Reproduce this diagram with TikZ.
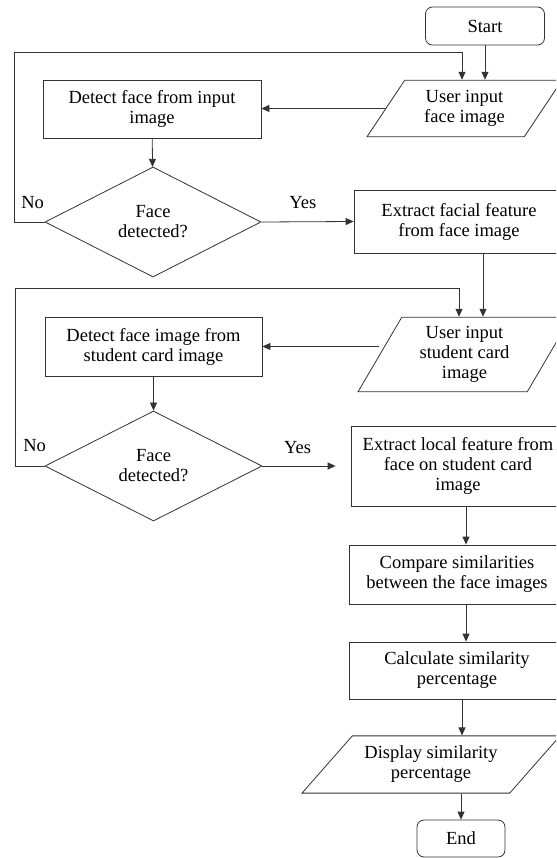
\documentclass[tikz,border=0pt]{standalone}
\usepackage{fontspec}
\setmainfont{Liberation Serif}
\usetikzlibrary{shapes.geometric, arrows.meta}
\tikzstyle{arrow} = [draw=black!80, line width=0.8pt, -{Triangle[length=8pt,width=7pt]}]
\tikzstyle{line} = [draw=black!80, line width=0.8pt]
\tikzstyle{startstop} = [rectangle, rounded corners=7pt, draw=black!80, line width=0.8pt, align=center, inner sep=0pt]
\tikzstyle{process} = [rectangle, draw=black!80, line width=0.8pt, align=center, inner sep=0pt]
\tikzstyle{io} = [trapezium, trapezium stretches body=true, draw=black!80, line width=0.8pt, align=center, inner xsep=0pt, inner ysep=10.2pt]
\tikzstyle{decision} = [diamond, draw=black!80, line width=0.8pt, align=center, inner sep=0pt, aspect=2]

\begin{document}
\begin{tikzpicture}[x=1pt, y=-1pt, font=\fontsize{18.5}{20}\selectfont]
\useasboundingbox (0,0) rectangle (556,858);
\clip (0,0) rectangle (556,858);
\node (start) [startstop, minimum width=119pt, minimum height=38pt] at (485,26) {Start};
\node (in1) [io, trapezium left angle=56.3, trapezium right angle=123.7, minimum width=195pt] at (464.5,108.5) {User input\\face image};
\node (det1) [process, minimum width=218pt, minimum height=58pt] at (152,109) {Detect face from input\\image};
\node (dec1) [decision, minimum width=216pt, minimum height=110pt] at (153,222) {Face\\detected?};
\node (ext1) [process, minimum width=210pt, minimum height=63pt] at (459,221.5) {Extract facial feature\\from face image};
\node (in2) [io, inner ysep=9.2pt, trapezium left angle=59.6, trapezium right angle=120.4, minimum width=213pt] at (464.5,354.5) {User input\\student card\\image};
\node (det2) [process, minimum width=217pt, minimum height=59pt] at (153.5,346.5) {Detect face image from\\student card image};
\node (dec2) [decision, minimum width=217pt, minimum height=110pt] at (153.5,466) {Face\\detected?};
\node (ext2) [process, minimum width=214pt, minimum height=80pt] at (458,466) {Extract local feature from\\face on student card\\image};
\node (cmp) [process, minimum width=216pt, minimum height=59pt] at (457,574.5) {Compare similarities\\between the face images};
\node (calc) [process, minimum width=216pt, minimum height=57pt] at (457,670.5) {Calculate similarity\\percentage};
\node (disp) [io, trapezium left angle=48.7, trapezium right angle=131.3, minimum width=258pt] at (431,764.5) {Display similarity\\percentage};
\node (stop) [startstop, minimum width=88pt, minimum height=37pt] at (461,838.5) {End};
\coordinate (loopa) at (14,52);
\coordinate (loopb) at (15,288);
\node (no1) at ([xshift=-12pt, yshift=19pt]dec1.west) {No};
\node (no2) at ([xshift=-10pt, yshift=20pt]dec2.west) {No};
\draw [arrow] (start) -- (start |- in1.north);
\draw [arrow] (dec1.west) -| (loopa) -| ([xshift=-2.5pt]in1.north);
\draw [arrow] (in1.west) -- (in1.west -| det1.east);
\draw [arrow] (det1) -- (dec1);
\draw [arrow] (dec1.east) -- node[above=9pt, pos=0.45] (yes1) {Yes} (ext1.west);
\draw [arrow] ([xshift=24pt]ext1.south) -- ([xshift=24pt]ext1.south |- in2.north);
\draw [arrow] (dec2.west) -| (loopb) -| ([xshift=-5.5pt]in2.north);
\draw [arrow] (det2.east -| in2.west) -- (det2.east);
\draw [arrow] (det2) -- (dec2);
\draw [arrow, shorten >=15pt] (dec2.east) -- node[above=9pt, pos=0.4] (yes2) {Yes} (ext2.west);
\draw [arrow] ([xshift=8pt]ext2.south) -- ([xshift=8pt]ext2.south |- cmp.north);
\draw [arrow] ([xshift=9pt]cmp.south) -- ([xshift=9pt]cmp.south |- calc.north);
\draw [arrow] ([xshift=5pt]calc.south) -- ([xshift=5pt]calc.south |- disp.north);
\draw [arrow] (stop |- disp.south) -- (stop.north);
\end{tikzpicture}
\end{document}
